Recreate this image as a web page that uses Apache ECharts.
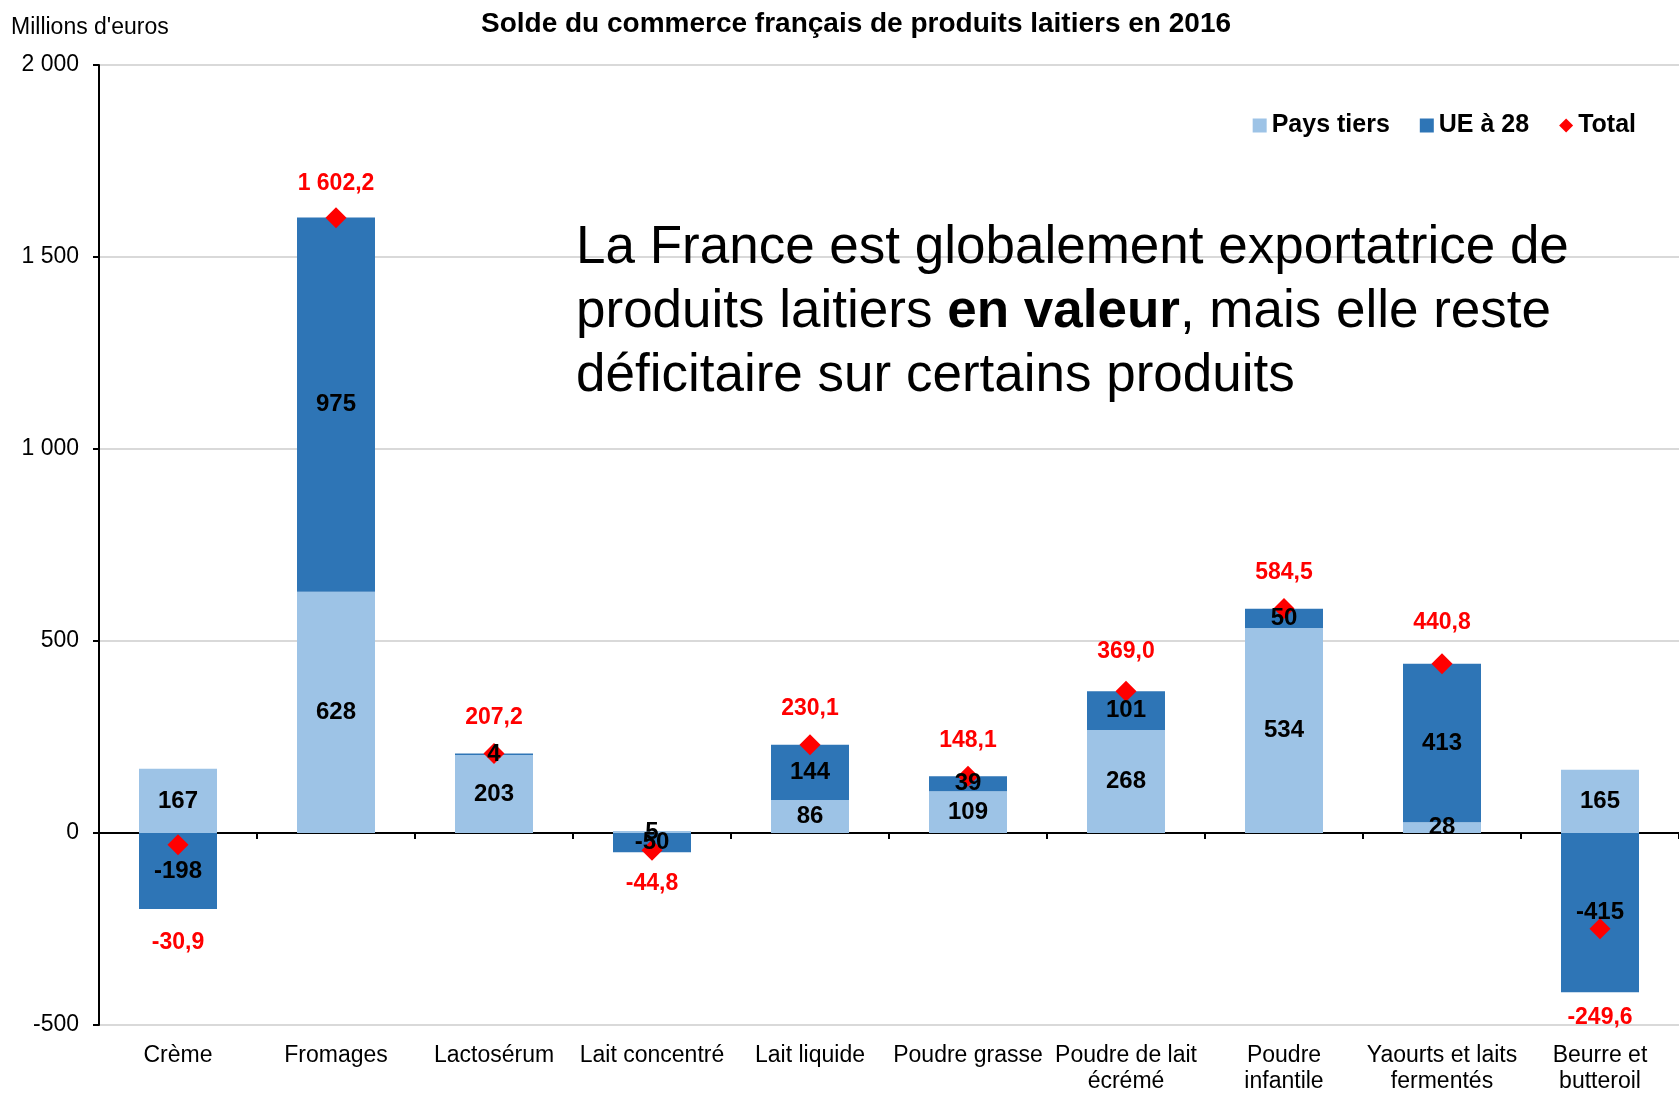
<!DOCTYPE html>
<html>
<head>
<meta charset="utf-8">
<script src="https://cdn.jsdelivr.net/npm/echarts@6/dist/echarts.min.js"></script>
<style>
  html, body { margin: 0; padding: 0; background: #fff; }
  #chart { width: 1679px; height: 1095px; }
</style>
</head>
<body>
<div id="chart"></div>
<script>
// données (millions d'euros)
const categories = ['Crème', 'Fromages', 'Lactosérum', 'Lait concentré', 'Lait liquide',
  'Poudre grasse', 'Poudre de lait\nécrémé', 'Poudre\ninfantile', 'Yaourts et laits\nfermentés', 'Beurre et\nbutteroil']
const paysTiers = [167, 628, 203, 5, 86, 109, 268, 534, 28, 165]
const ue28 = [-198, 975, 4, -50, 144, 39, 101, 50, 413, -415]
const total = [-30.9, 1602.2, 207.2, -44.8, 230.1, 148.1, 369.0, 584.5, 440.8, -249.6]
const yTicks = [-500, 0, 500, 1000, 1500, 2000]

// écart des étiquettes "Total" par rapport au losange
const totalLabelGap = [76, 12, 14, 11, 14, 13, 18, 14, 19, 67]

const FONT = '"Liberation Sans", Arial, sans-serif'
const light = '#9DC3E6'
const dark = '#2E75B6'
const red = '#FF0000'

function frNum(v, dec) {
  let s = Math.abs(v).toFixed(dec).split('.')
  let ent = s[0].replace(/\B(?=(\d{3})+(?!\d))/g, ' ')
  return (v < 0 ? '-' : '') + ent + (dec ? ',' + s[1] : '')
}

let chart = echarts.init(document.getElementById('chart'))

const barLabel = {
  show: true,
  position: 'inside',
  color: '#000',
  fontFamily: FONT,
  fontWeight: 'bold',
  fontSize: 24
}

let option = {
  animation: false,
  backgroundColor: '#fff',
  title: {
    text: 'Solde du commerce français de produits laitiers en 2016',
    left: 851,
    top: 5,
    textAlign: 'center',
    textStyle: { fontFamily: FONT, fontWeight: 'bold', fontSize: 28, color: '#000' }
  },
  legend: {
    data: [
      { name: 'Pays tiers', icon: 'rect' },
      { name: 'UE à 28', icon: 'rect' },
      { name: 'Total', icon: 'diamond' }
    ],
    right: 38,
    top: 108,
    itemWidth: 14,
    itemHeight: 14,
    itemGap: 30,
    textStyle: { fontFamily: FONT, fontWeight: 'bold', fontSize: 25, color: '#000' }
  },
  grid: { left: 99, top: 65, width: 1585, height: 964, containLabel: false },
  xAxis: [
    {
      type: 'category',
      data: categories,
      axisLine: { onZero: true, lineStyle: { color: '#000', width: 2 } },
      axisTick: { show: true, length: 6, lineStyle: { color: '#000', width: 2 } },
      axisLabel: { show: false }
    },
    {
      type: 'category',
      data: categories,
      position: 'bottom',
      axisLine: { show: false, onZero: false },
      axisTick: { show: false },
      axisLabel: {
        interval: 0,
        margin: 18,
        color: '#000',
        fontFamily: FONT,
        fontSize: 23,
        lineHeight: 26
      }
    }
  ],
  yAxis: {
    type: 'value',
    min: yTicks[0],
    max: yTicks[yTicks.length - 1],
    interval: 500,
    axisLine: { show: true, lineStyle: { color: '#000', width: 2 } },
    axisTick: { show: true, length: 6, lineStyle: { color: '#000', width: 2 } },
    axisLabel: {
      margin: 20,
      color: '#000',
      fontFamily: FONT,
      fontSize: 23,
      formatter: v => frNum(v, 0)
    },
    splitLine: { show: true, lineStyle: { color: '#D9D9D9', width: 2 } }
  },
  graphic: [
    {
      type: 'text',
      left: 11,
      top: 16,
      style: { text: "Millions d'euros", fontFamily: FONT, fontSize: 23, fill: '#000' }
    },
    {
      type: 'text',
      left: 576,
      top: 216,
      z: 10,
      style: {
        text: 'La France est globalement exportatrice de\nproduits laitiers {b|en valeur}, mais elle reste\ndéficitaire sur certains produits',
        fontFamily: FONT,
        fontSize: 53,
        lineHeight: 64,
        fill: '#000',
        rich: {
          b: { fontFamily: FONT, fontWeight: 'bold', fontSize: 53, lineHeight: 64, fill: '#000' }
        }
      }
    }
  ],
  series: [
    {
      name: 'Pays tiers',
      type: 'bar',
      stack: 'solde',
      barWidth: 78,
      barGap: '-100%',
      itemStyle: { color: light },
      data: paysTiers,
      z: 2
    },
    {
      name: 'UE à 28',
      type: 'bar',
      stack: 'solde',
      barWidth: 78,
      barGap: '-100%',
      itemStyle: { color: dark },
      data: ue28,
      z: 2
    },
    {
      name: 'Total',
      type: 'scatter',
      symbol: 'diamond',
      symbolSize: 21,
      itemStyle: { color: red, opacity: 1 },
      z: 3,
      data: total.map((v, i) => ({
        value: v,
        label: {
          position: v >= 0 ? 'top' : 'bottom',
          distance: totalLabelGap[i]
        }
      })),
      label: {
        show: true,
        color: red,
        fontFamily: FONT,
        fontWeight: 'bold',
        fontSize: 23,
        formatter: p => frNum(p.value, 1)
      }
    },
    // étiquettes des barres, au-dessus des losanges
    {
      name: 'lblTiers',
      type: 'bar',
      stack: 'etiq',
      barWidth: 78,
      barGap: '-100%',
      itemStyle: { color: 'rgba(0,0,0,0)' },
      label: barLabel,
      data: paysTiers,
      z: 4,
      silent: true
    },
    {
      name: 'lblUE',
      type: 'bar',
      stack: 'etiq',
      barWidth: 78,
      barGap: '-100%',
      itemStyle: { color: 'rgba(0,0,0,0)' },
      label: barLabel,
      data: ue28,
      z: 4,
      silent: true
    }
  ]
}

chart.setOption(option)
</script>
</body>
</html>
